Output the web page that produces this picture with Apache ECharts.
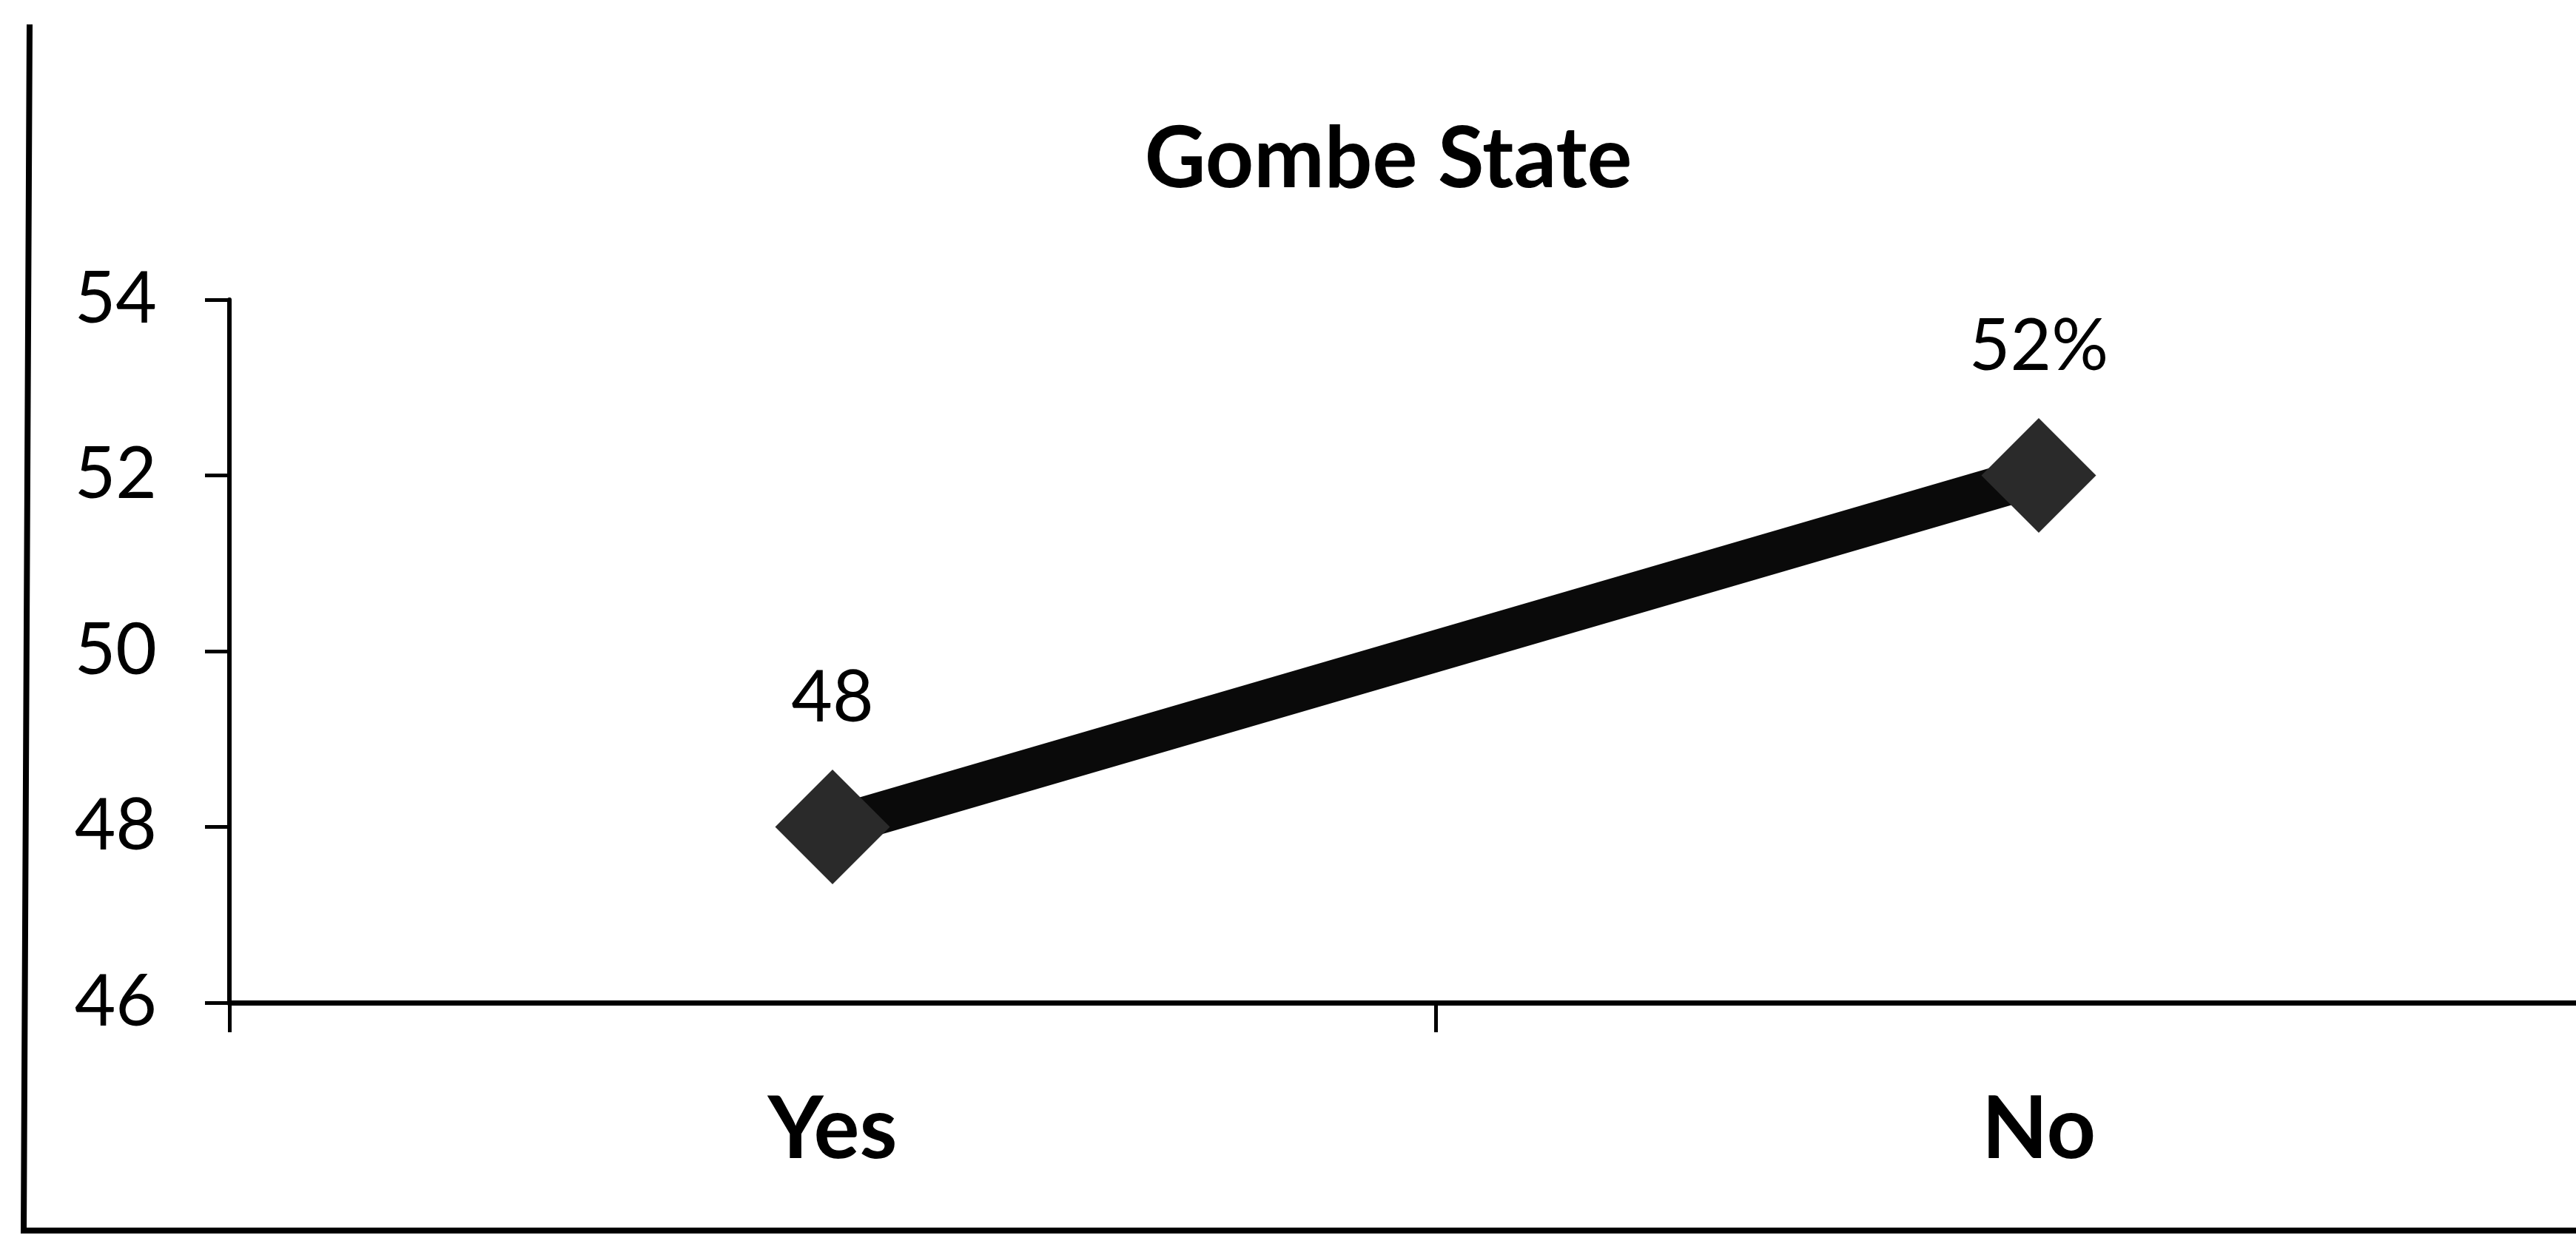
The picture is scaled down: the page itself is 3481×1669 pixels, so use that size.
<!DOCTYPE html>
<html>
<head>
<meta charset="utf-8">
<script src="https://cdn.jsdelivr.net/npm/echarts@6/dist/echarts.min.js"></script>
<style>
  html, body { margin: 0; padding: 0; background: #ffffff; overflow: hidden; width: 3481px; height: 1669px; }
  #chart { width: 3572px; height: 1669px; }
</style>
</head>
<body>
<div id="chart"></div>
<script>
var chartTitle = 'Gombe State';
var categories = ['Yes', 'No'];
var values = [48, 52];
var pointLabels = ['48', '52%'];
var yMin = 46, yMax = 54, yStep = 2;

var chart = echarts.init(document.getElementById('chart'), null, { renderer: 'canvas' });
var font = 'Lato, "Open Sans", "DejaVu Sans", sans-serif';

chart.setOption({
  backgroundColor: '#ffffff',
  animation: false,
  title: {
    text: chartTitle,
    left: 1871,
    top: 154,
    textAlign: 'center',
    textStyle: { fontFamily: font, fontSize: 114, fontWeight: 'bold', color: '#000' }
  },
  grid: { left: 310, right: 2, top: 405, bottom: 314, containLabel: false },
  xAxis: {
    type: 'category',
    data: categories,
    boundaryGap: true,
    axisLine: { show: true, lineStyle: { color: '#000', width: 7 } },
    axisTick: { show: true, inside: false, length: 40, lineStyle: { color: '#000', width: 5 } },
    axisLabel: { fontFamily: font, fontSize: 116, fontWeight: 'bold', color: '#000', margin: 115 },
    splitLine: { show: false }
  },
  yAxis: {
    type: 'value',
    min: yMin, max: yMax, interval: yStep,
    axisLine: { show: true, lineStyle: { color: '#000', width: 6 } },
    axisTick: { show: true, inside: false, length: 33, lineStyle: { color: '#000', width: 5 } },
    axisLabel: { fontFamily: font, fontSize: 96, color: '#000', margin: 98 },
    splitLine: { show: false }
  },
  graphic: [{
    type: 'polyline',
    shape: { points: [[40, 33], [32, 1663], [3572, 1663]] },
    style: { stroke: '#000', lineWidth: 8, fill: null },
    silent: true
  }],
  series: [{
    type: 'line',
    data: values,
    symbol: 'diamond',
    symbolSize: 155,
    itemStyle: { color: '#2a2a2a' },
    lineStyle: { color: '#0a0a0a', width: 56 },
    label: {
      show: true,
      position: 'top',
      distance: 48,
      fontFamily: font,
      fontSize: 96,
      color: '#000',
      formatter: function (p) { return pointLabels[p.dataIndex]; }
    }
  }]
});
</script>
</body>
</html>
